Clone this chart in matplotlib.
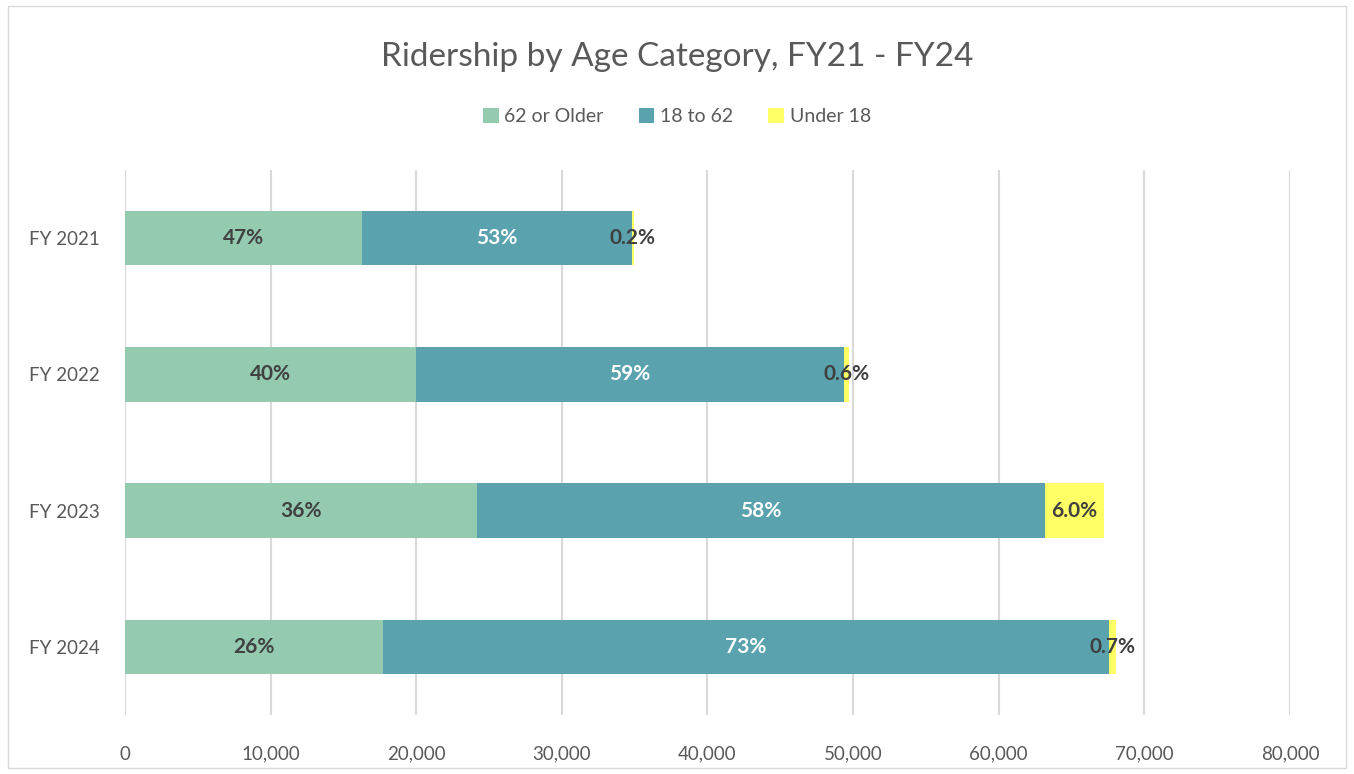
import matplotlib
matplotlib.use("Agg")
import matplotlib.pyplot as plt
import numpy as np
from matplotlib.patches import Rectangle
from matplotlib.ticker import FuncFormatter

plt.rcParams["font.family"] = ["Lato", "DejaVu Sans"]

years = ["FY 2021", "FY 2022", "FY 2023", "FY 2024"]
older = [16270, 19980, 24170, 17700]
adult = [18530, 29420, 39030, 49900]
under = [140, 300, 4030, 480]
older_lbl = ["47%", "40%", "36%", "26%"]
adult_lbl = ["53%", "59%", "58%", "73%"]
under_lbl = ["0.2%", "0.6%", "6.0%", "0.7%"]

series = [
    ("62 or Older", older, older_lbl, "#93CAB0", "#404040"),
    ("18 to 62", adult, adult_lbl, "#5AA2AE", "white"),
    ("Under 18", under, under_lbl, "#FFFF66", "#404040"),
]

fig = plt.figure(figsize=(13.54, 7.74), dpi=100)
ax = fig.add_axes([0.0923, 0.0762, 0.8604, 0.7042])

y = np.arange(len(years))
left = np.zeros(len(years))
for name, vals, lbls, color, tcol in series:
    vals = np.array(vals, dtype=float)
    ax.barh(y, vals, left=left, height=0.4, color=color, label=name, zorder=3)
    for yi, l, v, t in zip(y, left, vals, lbls):
        ax.text(l + v / 2, yi, t, ha="center", va="center", fontsize=15,
                fontweight="bold", color=tcol, zorder=4)
    left += vals

ax.set_xlim(0, 80000)
ax.set_ylim(3.5, -0.5)
ax.set_xticks(np.arange(0, 80001, 10000))
ax.xaxis.set_major_formatter(FuncFormatter(lambda v, p: f"{int(v):,}"))
ax.set_yticks(y)
ax.set_yticklabels(years)
ax.tick_params(axis="both", length=0, labelsize=13.5, colors="#595959")
ax.tick_params(axis="x", pad=22)
ax.tick_params(axis="y", pad=18)
ax.grid(axis="x", color="#D9D9D9", linewidth=1.5, zorder=0)
for s in ax.spines.values():
    s.set_visible(False)

fig.text(0.5, 0.926, "Ridership by Age Category, FY21 - FY24", ha="center",
         va="center", fontsize=24, color="#595959")
fig.legend(loc="center", bbox_to_anchor=(0.5, 0.849), ncol=3, frameon=False,
           fontsize=14, handlelength=0.8, handleheight=0.8, handletextpad=0.3,
           columnspacing=1.8, labelcolor="#595959")

fig.patches.append(Rectangle((0.006, 0.008), 0.988, 0.984, transform=fig.transFigure,
                             fill=False, edgecolor="#D9D9D9", linewidth=1))

fig.savefig("out.png", dpi=100)
